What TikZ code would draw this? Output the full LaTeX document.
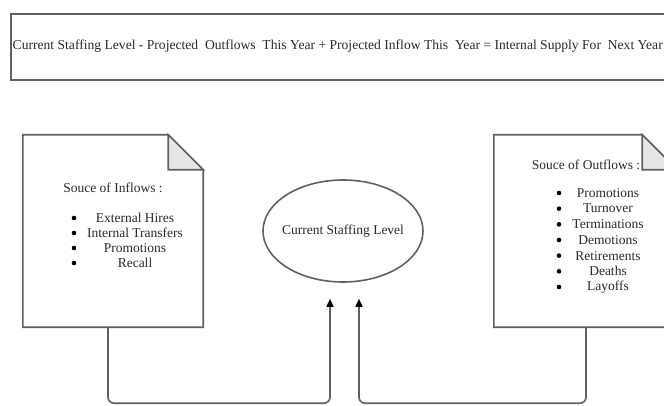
\documentclass[tikz,border=0pt]{standalone}
\usepackage{fontspec}
\setmainfont{Liberation Serif}
\usetikzlibrary{shapes.geometric,arrows.meta}

\definecolor{linegray}{HTML}{606060}
\definecolor{inkgray}{HTML}{2A2A2A}
\definecolor{foldgray}{HTML}{E6E6E6}

\tikzset{
  frame/.style={draw=linegray, line width=1.6pt},
  docbox/.style={rectangle, inner sep=0pt},
  label/.style={text=inkgray, font=\fontsize{13.5}{15}\selectfont, inner sep=0pt},
  banner/.style={text=inkgray, font=\fontsize{13.6}{15}\selectfont, inner sep=0pt},
  bul/.style={circle, fill=black, inner sep=0pt, minimum size=4.6pt},
  flow/.style={draw=linegray, line width=1.6pt, rounded corners=6pt,
    -{Triangle[length=8pt,width=7pt,color=black]}},
}

\begin{document}
\begin{tikzpicture}[x=1pt,y=-1pt]
  \useasboundingbox (0,0) rectangle (664,406);
  \clip (0,0) rectangle (664,406);

  % equation banner
  \node[frame, rectangle, inner sep=0pt, minimum width=700pt, minimum height=66pt,
        anchor=north west] (eqbox) at (10,13) {};
  \node[banner, anchor=west] (eqtext) at (12.5,46)
    {Current Staffing Level - Projected\ \ Outflows\ \ This Year + Projected Inflow This\ \ Year = Internal Supply For\ \ Next Year};

  % inflow document
  \node[docbox, minimum width=180pt, minimum height=192pt] (ldoc) at (113,231) {};
  \draw[frame, line join=miter]
    (ldoc.south west) -- (ldoc.north west) -- ([xshift=-35pt]ldoc.north east)
    -- ([yshift=-35pt]ldoc.north east) -- (ldoc.south east) -- cycle;
  \draw[frame, fill=foldgray, line join=miter]
    ([xshift=-35pt]ldoc.north east) -- ([xshift=-35pt,yshift=-35pt]ldoc.north east)
    -- ([yshift=-35pt]ldoc.north east) -- cycle;
  \node[label] (ltitle) at (113,188) {Souce of Inflows :};
  \foreach \t [count=\i] in {External Hires, Internal Transfers, Promotions, Recall} {
    \node[bul] (lb\i) at (74,203+15*\i) {};
    \node[label] (li\i) at (135,203+15*\i) {\t};
  }

  % outflow document
  \node[docbox, minimum width=183pt, minimum height=192pt] (rdoc) at (585.5,231) {};
  \draw[frame, line join=miter]
    (rdoc.south west) -- (rdoc.north west) -- ([xshift=-35pt]rdoc.north east)
    -- ([yshift=-35pt]rdoc.north east) -- (rdoc.south east) -- cycle;
  \draw[frame, fill=foldgray, line join=miter]
    ([xshift=-35pt]rdoc.north east) -- ([xshift=-35pt,yshift=-35pt]rdoc.north east)
    -- ([yshift=-35pt]rdoc.north east) -- cycle;
  \node[label] (rtitle) at (586,165) {Souce of Outflows :};
  \foreach \t [count=\i] in {Promotions, Turnover, Terminations, Demotions, Retirements, Deaths, Layoffs} {
    \node[bul] (rb\i) at (559,177.3+15.67*\i) {};
    \node[label] (ri\i) at (608,177.3+15.67*\i) {\t};
  }

  % current level
  \node[frame, ellipse, minimum width=160pt, minimum height=102pt, inner sep=0pt] (staff) at (343,231) {};
  \node[label] (stafftext) at (staff.center) {Current Staffing Level};

  % flows into the current level
  \draw[flow] ([xshift=-5pt]ldoc.south) -- ++(0,76)
    -| ([xshift=-13pt,yshift=-16pt]staff.south);
  \draw[flow] ([xshift=0.5pt]rdoc.south) -- ++(0,76)
    -| ([xshift=16pt,yshift=-16pt]staff.south);
\end{tikzpicture}
\end{document}
